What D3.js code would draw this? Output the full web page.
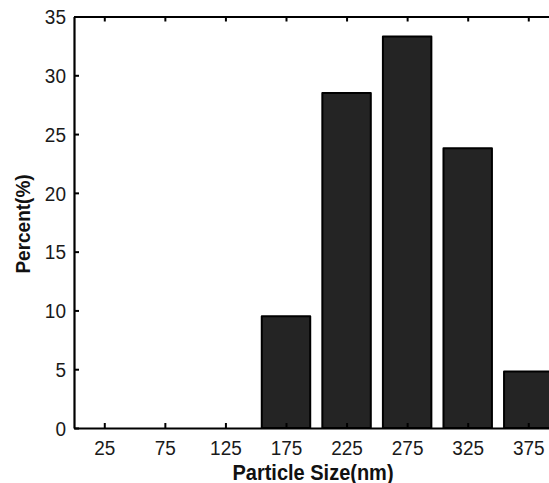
<!DOCTYPE html>
<html><head><meta charset="utf-8">
<script src="https://cdn.jsdelivr.net/npm/d3@7"></script>
<style>
html,body{margin:0;padding:0;background:#fff;overflow:hidden;}
text{font-family:"Liberation Sans",Arial,sans-serif;}
</style></head>
<body>
<svg id="c" width="549" height="483"></svg>
<script>
const categories = [25, 75, 125, 175, 225, 275, 325, 375];
const percents   = [0, 0, 0, 9.5, 28.5, 33.3, 23.8, 4.8];
const yTicks     = [0, 5, 10, 15, 20, 25, 30, 35];
const barWidthNm = 40;

const svg = d3.select("#c");
const mLeft = 74, mTop = 16.5, mBottom = 428;
const x = d3.scaleLinear().domain([0, 450]).range([mLeft, mLeft + 450 * 1.2114]);
const y = d3.scaleLinear().domain([0, 35]).range([mBottom, mTop]);

// bars
svg.append("g").selectAll("rect")
  .data(categories.map((c, i) => ({c, v: percents[i]})).filter(d => d.v > 0))
  .join("rect")
  .attr("x", d => x(d.c - barWidthNm / 2))
  .attr("width", d => x(d.c + barWidthNm / 2) - x(d.c - barWidthNm / 2))
  .attr("y", d => y(d.v))
  .attr("height", d => y(0) - y(d.v))
  .attr("fill", "#242424")
  .attr("stroke", "#000")
  .attr("stroke-width", 2)
  .attr("stroke-linejoin", "round");

// axes
const xb = svg.append("g").attr("transform", `translate(0,${mBottom})`)
  .call(d3.axisBottom(x).tickValues(categories).tickSizeInner(-5).tickSizeOuter(0).tickPadding(12));
const xt = svg.append("g").attr("transform", `translate(0,${mTop})`)
  .call(d3.axisTop(x).tickValues(categories).tickSizeInner(-5).tickSizeOuter(0).tickFormat(""));
const yl = svg.append("g").attr("transform", `translate(${mLeft},0)`)
  .call(d3.axisLeft(y).tickValues(yTicks).tickSizeInner(-5).tickSizeOuter(0).tickPadding(8));

[xb, xt, yl].forEach(g => {
  g.select(".domain").attr("stroke", "#000").attr("stroke-width", 2.2);
  g.selectAll(".tick line").attr("stroke", "#000").attr("stroke-width", 2);
  g.selectAll(".tick text").attr("fill", "#1a1a1a").style("font-size", "19px")
    .style("font-family", "'Liberation Sans', Arial, sans-serif");
});
// slightly tall glyphs, as in the reference
xb.selectAll(".tick text").each(function() {
  const t = d3.select(this);
  const ty = 12;
  t.attr("y", null).attr("dy", "0.71em").attr("transform", `translate(0,${ty}) scale(1,1.1)`);
});
yl.selectAll(".tick text").each(function() {
  const t = d3.select(this);
  const tx = +t.attr("x");
  t.attr("x", null).attr("dy", "0.35em").attr("transform", `translate(${tx},0) scale(1,1.1)`);
});

// axis titles
svg.append("text")
  .attr("transform", "translate(313,480) scale(1,1.1)")
  .attr("text-anchor", "middle")
  .style("font-size", "20px").style("font-weight", "bold").attr("fill", "#111")
  .text("Particle Size(nm)");
svg.append("text")
  .attr("transform", "translate(30,224) rotate(-90) scale(1,1.05)")
  .attr("text-anchor", "middle")
  .style("font-size", "19px").style("font-weight", "bold").attr("fill", "#111")
  .text("Percent(%)");
</script>
</body></html>
